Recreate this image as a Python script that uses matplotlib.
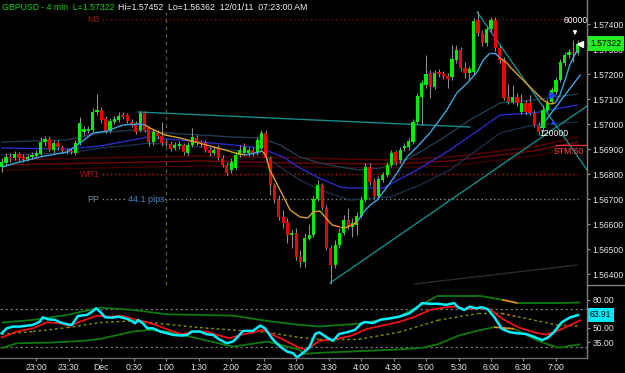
import numpy as np
import matplotlib
matplotlib.use("Agg")
import matplotlib.pyplot as plt
from matplotlib.collections import LineCollection
from matplotlib.lines import Line2D
from matplotlib.ticker import FormatStrFormatter
from matplotlib.transforms import blended_transform_factory

plt.rcParams['font.family'] = ['Liberation Sans', 'DejaVu Sans']

W, H = 625, 373

# GBPUSD 4 min bars, bar 0 = 22:28 ... bar 133 = 07:20
opens = [1.56828, 1.56844, 1.56868, 1.56864, 1.56880, 1.56868, 1.56860, 1.56868, 1.56872, 1.56880,
         1.56928, 1.56940, 1.56896, 1.56924, 1.56908, 1.56892, 1.56892, 1.56884, 1.56924, 1.56968,
         1.56972, 1.56976, 1.57048, 1.57056, 1.57020, 1.56972, 1.57008, 1.57016, 1.57036, 1.57036,
         1.57008, 1.57000, 1.56976, 1.57044, 1.56984, 1.56928, 1.56964, 1.56952, 1.56928, 1.56920,
         1.56904, 1.56912, 1.56916, 1.56884, 1.56916, 1.56944, 1.56928, 1.56924, 1.56896, 1.56884,
         1.56904, 1.56864, 1.56836, 1.56816, 1.56824, 1.56876, 1.56884, 1.56884, 1.56896, 1.56884,
         1.56904, 1.56964, 1.56864, 1.56756, 1.56696, 1.56628, 1.56608, 1.56556, 1.56564, 1.56468,
         1.56448, 1.56540, 1.56556, 1.56700, 1.56756, 1.56664, 1.56504, 1.56436, 1.56516, 1.56564,
         1.56616, 1.56588, 1.56596, 1.56632, 1.56696, 1.56828, 1.56772, 1.56712, 1.56776, 1.56796,
         1.56836, 1.56888, 1.56856, 1.56904, 1.56908, 1.56928, 1.57008, 1.57108, 1.57156, 1.57204,
         1.57148, 1.57208, 1.57200, 1.57192, 1.57188, 1.57256, 1.57296, 1.57224, 1.57204, 1.57208,
         1.57416, 1.57364, 1.57324, 1.57380, 1.57416, 1.57304, 1.57256, 1.57108, 1.57088, 1.57108,
         1.57048, 1.57084, 1.57084, 1.57044, 1.56996, 1.56984, 1.57056, 1.57088, 1.57128, 1.57176,
         1.57244, 1.57276, 1.57288, 1.57284]
highs = [1.56864, 1.56884, 1.56884, 1.56892, 1.56888, 1.56880, 1.56880, 1.56888, 1.56896, 1.56948,
         1.56952, 1.56952, 1.56936, 1.56936, 1.56916, 1.56904, 1.56904, 1.56936, 1.57028, 1.56992,
         1.56992, 1.57064, 1.57120, 1.57068, 1.57032, 1.57024, 1.57032, 1.57048, 1.57048, 1.57044,
         1.57020, 1.57012, 1.57052, 1.57052, 1.56992, 1.56980, 1.56976, 1.57008, 1.56940, 1.56932,
         1.56928, 1.56932, 1.56924, 1.56928, 1.56984, 1.56956, 1.56936, 1.56936, 1.56908, 1.56908,
         1.56916, 1.56876, 1.56848, 1.56864, 1.56888, 1.56916, 1.56924, 1.56908, 1.56908, 1.56948,
         1.56976, 1.56976, 1.56872, 1.56764, 1.56716, 1.56656, 1.56624, 1.56576, 1.56584, 1.56496,
         1.56564, 1.56600, 1.56712, 1.56776, 1.56764, 1.56676, 1.56516, 1.56536, 1.56584, 1.56636,
         1.56664, 1.56624, 1.56648, 1.56712, 1.56844, 1.56844, 1.56784, 1.56792, 1.56808, 1.56848,
         1.56896, 1.56896, 1.56908, 1.56924, 1.56944, 1.57020, 1.57124, 1.57176, 1.57276, 1.57216,
         1.57216, 1.57220, 1.57212, 1.57204, 1.57316, 1.57316, 1.57308, 1.57248, 1.57232, 1.57424,
         1.57452, 1.57376, 1.57392, 1.57428, 1.57428, 1.57316, 1.57268, 1.57160, 1.57156, 1.57124,
         1.57120, 1.57096, 1.57116, 1.57056, 1.57008, 1.57076, 1.57100, 1.57148, 1.57188, 1.57260,
         1.57288, 1.57300, 1.57336, 1.57336]
lows = [1.56808, 1.56832, 1.56848, 1.56856, 1.56852, 1.56848, 1.56852, 1.56860, 1.56864, 1.56872,
        1.56912, 1.56892, 1.56884, 1.56896, 1.56884, 1.56880, 1.56880, 1.56876, 1.56916, 1.56956,
        1.56964, 1.56968, 1.57036, 1.57004, 1.56964, 1.56964, 1.57000, 1.57008, 1.57020, 1.57004,
        1.56988, 1.56960, 1.56968, 1.56968, 1.56912, 1.56916, 1.56940, 1.56912, 1.56912, 1.56892,
        1.56896, 1.56900, 1.56876, 1.56876, 1.56908, 1.56916, 1.56908, 1.56888, 1.56872, 1.56876,
        1.56856, 1.56828, 1.56796, 1.56804, 1.56816, 1.56868, 1.56876, 1.56872, 1.56872, 1.56876,
        1.56896, 1.56856, 1.56716, 1.56684, 1.56616, 1.56584, 1.56524, 1.56504, 1.56456, 1.56428,
        1.56428, 1.56536, 1.56548, 1.56692, 1.56656, 1.56496, 1.56362, 1.56424, 1.56504, 1.56556,
        1.56580, 1.56548, 1.56556, 1.56624, 1.56688, 1.56756, 1.56704, 1.56704, 1.56768, 1.56788,
        1.56828, 1.56836, 1.56844, 1.56892, 1.56896, 1.56920, 1.57000, 1.56996, 1.57144, 1.57104,
        1.57140, 1.57188, 1.57180, 1.57144, 1.57176, 1.57244, 1.57212, 1.57184, 1.57176, 1.57196,
        1.57352, 1.57312, 1.57312, 1.57368, 1.57292, 1.57244, 1.57096, 1.57080, 1.57080, 1.57072,
        1.57040, 1.57036, 1.57036, 1.56988, 1.56956, 1.56968, 1.57048, 1.57080, 1.57120, 1.57168,
        1.57232, 1.57264, 1.57248, 1.57276]
closes = [1.56848, 1.56868, 1.56864, 1.56880, 1.56864, 1.56860, 1.56868, 1.56876, 1.56884, 1.56928,
          1.56940, 1.56900, 1.56924, 1.56908, 1.56892, 1.56888, 1.56888, 1.56924, 1.57004, 1.56980,
          1.56980, 1.57048, 1.57056, 1.57016, 1.56972, 1.57012, 1.57020, 1.57032, 1.57028, 1.57012,
          1.57000, 1.56968, 1.57044, 1.56976, 1.56928, 1.56968, 1.56952, 1.56924, 1.56924, 1.56900,
          1.56916, 1.56920, 1.56888, 1.56916, 1.56948, 1.56928, 1.56920, 1.56896, 1.56884, 1.56896,
          1.56864, 1.56836, 1.56804, 1.56848, 1.56876, 1.56896, 1.56908, 1.56896, 1.56884, 1.56936,
          1.56964, 1.56864, 1.56756, 1.56696, 1.56628, 1.56604, 1.56556, 1.56564, 1.56468, 1.56448,
          1.56544, 1.56556, 1.56700, 1.56756, 1.56664, 1.56504, 1.56436, 1.56516, 1.56564, 1.56616,
          1.56588, 1.56604, 1.56632, 1.56696, 1.56828, 1.56768, 1.56712, 1.56780, 1.56796, 1.56836,
          1.56884, 1.56844, 1.56896, 1.56912, 1.56932, 1.57008, 1.57112, 1.57164, 1.57200, 1.57148,
          1.57204, 1.57200, 1.57192, 1.57180, 1.57260, 1.57296, 1.57224, 1.57204, 1.57220, 1.57412,
          1.57364, 1.57324, 1.57380, 1.57416, 1.57304, 1.57256, 1.57104, 1.57088, 1.57108, 1.57084,
          1.57084, 1.57048, 1.57044, 1.56996, 1.56968, 1.57056, 1.57084, 1.57136, 1.57176, 1.57248,
          1.57276, 1.57288, 1.57284, 1.57322]

# fast moving average (bar position, price), orange while falling
fast_x = [0, 4.2, 8.8, 15.1, 18.1, 21.1, 24.3, 28.0, 31.9, 33.1, 34.2, 37.7, 41.2, 44.7, 48.1, 51.6,
          53.9, 56.2, 58.5, 60.1, 61.0, 61.9, 64.3, 66.6, 68.9, 70.7, 71.9, 73.5, 74.7, 76.3, 78.1,
          79.7, 80.9, 82.1, 83.4, 85.1, 86.7, 89.0, 91.3, 93.6, 95.9, 98.9, 102.8, 105.1, 107.5,
          109.8, 111.2, 112.8, 113.9, 115.1, 116.7, 117.4, 120.4, 122.7, 125.0, 126.6, 127.8,
          128.9, 130.1, 131.2, 132.9]
fast_y = [1.56828, 1.56848, 1.56868, 1.56888, 1.56924, 1.56964, 1.56972, 1.56996, 1.57000, 1.56996,
          1.56984, 1.56956, 1.56944, 1.56928, 1.56912, 1.56896, 1.56884, 1.56876, 1.56884, 1.56892,
          1.56876, 1.56816, 1.56736, 1.56656, 1.56628, 1.56624, 1.56648, 1.56652, 1.56628, 1.56596,
          1.56588, 1.56588, 1.56596, 1.56608, 1.56644, 1.56676, 1.56696, 1.56748, 1.56804, 1.56868,
          1.56908, 1.56964, 1.57056, 1.57124, 1.57164, 1.57208, 1.57256, 1.57284, 1.57284, 1.57264,
          1.57244, 1.57228, 1.57176, 1.57136, 1.57096, 1.57080, 1.57084, 1.57116, 1.57176, 1.57236,
          1.57296]
fast_orange = [(33.1, 56.2), (60.1, 82.1), (115.1, 127.8)]

slate_x = [0, 15.1, 22.7, 30.3, 38.2, 45.8, 53.4, 59.7, 64.3, 68.9, 73.5, 78.1, 82.7, 87.4, 94.3,
           101.2, 108.1, 115.1, 122.7, 132.9]
slate_y = [1.56928, 1.56936, 1.56964, 1.56976, 1.56964, 1.56956, 1.56948, 1.56944, 1.56916, 1.56868,
           1.56844, 1.56828, 1.56816, 1.56824, 1.56864, 1.56936, 1.57016, 1.57084, 1.57096, 1.57120]
blue_x = [0, 15.1, 22.7, 30.3, 33.6, 45.8, 53.4, 59.7, 65.0, 68.9, 72.8, 78.1, 80.4, 88.1, 95.9,
          103.5, 115.1, 122.7, 132.9]
blue_y = [1.56904, 1.56900, 1.56912, 1.56936, 1.56948, 1.56928, 1.56916, 1.56904, 1.56868, 1.56824,
          1.56788, 1.56748, 1.56744, 1.56744, 1.56816, 1.56896, 1.57036, 1.57044, 1.57076]
navy_x = [0, 15.1, 22.7, 30.3, 34.2, 45.8, 53.4, 59.7, 64.3, 68.9, 73.5, 80.4, 89.7, 96.6, 103.5,
          115.1, 122.7, 132.9]
navy_y = [1.56876, 1.56884, 1.56904, 1.56916, 1.56924, 1.56908, 1.56896, 1.56884, 1.56828, 1.56776,
          1.56736, 1.56696, 1.56708, 1.56756, 1.56816, 1.56964, 1.56996, 1.57008]
slow_x = [0, 22.7, 45.8, 68.9, 89.7, 103.5, 122.7, 132.9]
slow1_y = [1.56856, 1.56864, 1.56872, 1.56864, 1.56856, 1.56868, 1.56908, 1.56948]
slow2_y = [1.56836, 1.56844, 1.56852, 1.56844, 1.56840, 1.56852, 1.56892, 1.56928]
slow3_y = [1.56816, 1.56824, 1.56832, 1.56828, 1.56824, 1.56832, 1.56872, 1.56904]

# drawn trend lines: (x0, p0, x1, p1)
trend_lines = [(31.5, 1.57048, 108.1, 1.56988),
               (75.8, 1.56364, 135.2, 1.57072),
               (109.8, 1.57448, 135.2, 1.56816)]
sky_line = (124.3, 1.56984, 133.6, 1.57196)
gray_line = (95.4, 1.56360, 132.9, 1.56436)

levels = {"M3": 1.57420, "WR1": 1.56800, "PP": 1.56700}
level_start, level_end = 23.2, 133.0
session_bar = 38

price_ticks = [1.564, 1.565, 1.566, 1.567, 1.568, 1.569, 1.570, 1.571, 1.572, 1.573, 1.574]
last_price = 1.57322

# lower oscillator panel
osc_x = [0, 1.2, 2.6, 4.2, 7.2, 8.8, 9.5, 10.7, 12.3, 13.5, 15.1, 16.2, 17.6, 19.7, 20.9, 21.8, 22.7,
         23.9, 25.5, 26.9, 28.5, 29.6, 30.8, 31.5, 32.6, 33.6, 34.9, 36.6, 38.2, 39.6, 41.6, 42.8,
         43.9, 45.8, 47.4, 48.8, 50.4, 52.0, 53.4, 54.6, 55.7, 58.0, 59.7, 60.8, 62.7, 64.3, 65.9,
         67.3, 68.2, 69.6, 71.0, 72.4, 73.3, 75.1, 76.5, 77.9, 79.7, 81.6, 83.0, 83.9, 85.7, 87.6,
         89.4, 91.7, 94.1, 95.7, 97.1, 98.9, 100.8, 102.6, 104.5, 105.4, 106.8, 108.1, 109.5, 110.9,
         112.3, 113.7, 115.5, 117.4, 119.2, 121.1, 122.9, 124.8, 126.2, 127.5, 129.4, 131.2, 133.1]
osc_y = [44.4, 49.7, 51.5, 51.5, 53.3, 56.8, 61.5, 59.3, 58.6, 56.0, 54.0, 53.3, 62.9, 64.0, 67.5,
         71.0, 67.5, 61.5, 61.0, 62.2, 60.4, 58.6, 55.0, 58.6, 55.0, 49.7, 49.7, 46.2, 44.4, 42.6,
         41.9, 42.6, 46.2, 46.2, 43.3, 42.6, 37.3, 33.7, 35.5, 40.8, 46.9, 46.9, 52.6, 49.7, 37.3,
         30.1, 24.8, 23.0, 18.5, 23.4, 28.9, 43.6, 45.4, 39.9, 36.2, 43.6, 45.4, 48.0, 54.6, 56.4,
         55.3, 59.0, 60.1, 62.0, 65.6, 71.1, 76.6, 75.9, 75.9, 74.8, 76.6, 72.2, 69.3, 72.9, 71.1,
         72.2, 70.0, 62.0, 49.1, 45.4, 44.3, 43.6, 40.6, 37.0, 39.9, 45.4, 56.4, 61.2, 63.91]
sig_x = [0, 3.5, 7.2, 10.5, 13.5, 15.8, 18.1, 22.0, 25.0, 28.0, 31.2, 33.6, 36.6, 39.6, 41.9, 44.2,
         47.4, 49.7, 52.7, 55.0, 58.0, 60.3, 62.7, 65.9, 68.9, 70.5, 73.3, 77.0, 80.7, 84.4, 88.1,
         91.7, 95.4, 98.9, 102.6, 105.4, 107.2, 110.0, 112.8, 115.5, 119.2, 122.9, 125.7, 128.5,
         131.2, 133.6]
sig_y = [39.8, 46.2, 49.7, 56.1, 55.0, 52.2, 56.8, 63.2, 62.2, 62.9, 58.6, 56.1, 51.5, 46.2, 43.3,
         46.2, 46.2, 42.6, 39.0, 42.6, 45.1, 47.9, 42.6, 35.5, 28.4, 27.0, 36.2, 38.0, 41.7, 49.1,
         52.8, 56.4, 62.0, 69.3, 72.2, 72.9, 70.0, 71.1, 70.0, 60.1, 50.9, 45.4, 42.8, 47.2, 52.8,
         58.3]
mid_x = [0, 7.2, 15.1, 22.7, 30.3, 38.2, 45.8, 53.4, 61.3, 68.9, 73.3, 82.5, 91.7, 100.8, 110.0,
         115.5, 119.2, 128.5, 133.6]
mid_y = [43.3, 46.2, 50.4, 55.8, 57.6, 54.0, 50.4, 47.9, 45.4, 39.8, 38.0, 38.0, 45.4, 58.3, 65.6,
         65.6, 62.0, 53.0, 52.0]
upper_x = [0, 7.2, 15.1, 22.7, 30.3, 38.2, 45.8, 53.4, 61.3, 68.9, 73.3, 82.5, 91.7, 100.8, 110.0,
           115.5, 119.2, 128.5, 133.6]
upper_y = [55.8, 58.6, 64.0, 71.8, 69.3, 64.7, 64.0, 63.2, 57.6, 53.3, 51.6, 54.6, 62.0, 84.7, 84.7,
           80.3, 76.6, 76.6, 77.3]
lower_x = [0, 3.5, 11.2, 18.8, 22.7, 30.3, 34.2, 38.2, 45.8, 53.4, 61.3, 68.9, 69.6, 73.3, 82.5,
           91.7, 97.1, 100.8, 105.4, 110.0, 113.7, 118.3, 123.9, 128.5, 133.6]
lower_y = [28.4, 33.7, 34.4, 36.2, 38.3, 46.2, 47.9, 46.2, 38.3, 30.1, 35.5, 26.6, 22.3, 23.4, 25.2,
           27.0, 28.9, 32.6, 41.7, 47.2, 50.9, 49.1, 36.2, 28.9, 32.6]
band_orange = (112.8, 118.5)
osc_ticks = [35, 50, 80]
osc_levels = [70, 30]

time_ticks = [8 + 7.5 * k for k in range(17)]
time_labels = ["23:00", "23:30", "Dec", "0:30", "1:00", "1:30", "2:00", "2:30", "3:00",
               "3:30", "4:00", "4:30", "5:00", "5:30", "6:00", "6:30", "7:00"]


def rect(x0, y0, x1, y1):
    # pixel box measured from the top left -> figure fraction
    return [x0 / W, 1 - y1 / H, (x1 - x0) / W, (y1 - y0) / H]


def two_tone(ax, xs, ys, spans, c_main, c_alt, lw, ls="-", z=3):
    xs, ys = np.asarray(xs, float), np.asarray(ys, float)
    segs = np.stack([np.column_stack([xs[:-1], ys[:-1]]),
                     np.column_stack([xs[1:], ys[1:]])], axis=1)
    mid = (xs[:-1] + xs[1:]) / 2
    alt = np.zeros(len(mid), bool)
    for a0, a1 in spans:
        alt |= (mid > a0) & (mid < a1)
    ax.add_collection(LineCollection(segs, colors=np.where(alt, c_alt, c_main),
                                     linewidths=lw, linestyles=ls, zorder=z))


fig = plt.figure(figsize=(W / 100, H / 100), dpi=100, facecolor="black")
ax = fig.add_axes(rect(0, 0, 587, 285))
ax2 = fig.add_axes(rect(0, 285, 587, 358))
for a in (ax, ax2):
    a.set_facecolor("black")
    for s in a.spines.values():
        s.set_visible(False)
    a.set_xlim(-0.39, 135.17)
ax.set_ylim(1.56356, 1.57496)
ax2.set_ylim(17.9, 96)

# level lines
lvl_col = {"M3": "#8b0000", "WR1": "#c81414", "PP": "#8a8a8a"}
txt_col = {"M3": "#a01818", "WR1": "#b01010", "PP": "#8090a0"}
for name, p in levels.items():
    ax.hlines(p, level_start, level_end, color=lvl_col[name], lw=1, linestyles=(0, (1, 2)), zorder=1)
    ax.text(level_start - 0.6, p, name, color=txt_col[name], fontsize=6.5, ha="right", va="center")
ax.text(33.3, levels["PP"], "44.1 pips", color="#4a88c8", fontsize=6.5, ha="center", va="center",
        bbox=dict(fc="black", ec="none", pad=0.3), zorder=2)
ax.vlines(session_bar, 1.56356, 1.5745, color="#5e5e22", lw=0.9, linestyles=(0, (3, 3)), zorder=1)

# moving averages
ax.plot(slow_x, slow1_y, color="#5a0000", lw=1, zorder=1.5)
ax.plot(slow_x, slow2_y, color="#700606", lw=1, zorder=1.5)
ax.plot(slow_x, slow3_y, color="#3e0000", lw=1, zorder=1.5)
ax.plot(slate_x, slate_y, color="#1f3c4e", lw=1, zorder=1.5)
ax.plot(navy_x, navy_y, color="#1c2c46", lw=1, zorder=1.5)
ax.plot(blue_x, blue_y, color="#2a2ac4", lw=1, zorder=1.5)

for x0, p0, x1, p1 in trend_lines:
    ax.plot([x0, x1], [p0, p1], color="#178a8a", lw=1, zorder=2)
ax.plot(sky_line[::2], sky_line[1::2], color="#3ea6e0", lw=1, zorder=2)
ax.plot(gray_line[::2], gray_line[1::2], color="#2a2a2a", lw=1, zorder=1)

# candles
o, hi, lo, c = map(np.array, (opens, highs, lows, closes))
idx = np.arange(len(o))
up = c >= o
ax.vlines(idx, lo, hi, color="#8c8c8c", lw=0.8, zorder=3)
ax.bar(idx, np.maximum(np.abs(c - o), 0.00004), bottom=np.minimum(o, c), width=0.72,
       color=np.where(up, "#00ee00", "#ee0000"), linewidth=0, zorder=4)

two_tone(ax, fast_x, fast_y, fast_orange, "#3ea6e0", "#e0a028", 1.0, z=5)

# signal marks and labels on the right edge
ax.annotate("", xy=(132.4, 1.57344), xytext=(132.4, 1.57384),
            arrowprops=dict(arrowstyle="-|>", color="white", lw=1, mutation_scale=5), zorder=6)
ax.plot(133.6, 1.57320, marker="<", color="white", ms=4, zorder=6)
ax.plot(127.1, 1.57116, marker=">", color="#2040ff", ms=4, zorder=6)
ax.annotate("", xy=(127.4, 1.57028), xytext=(127.4, 1.56990),
            arrowprops=dict(arrowstyle="-|>", color="#2040ff", lw=1, mutation_scale=5), zorder=6)
ax.text(135.4, 1.57416, "60000", color="white", fontsize=6.2, ha="right", va="center", zorder=7)
ax.text(127.5, 1.56964, "120000", color="white", fontsize=6.2, ha="center", va="center", zorder=7)
ax.text(131.0, 1.56892, "STM:60", color="#ff4a4a", fontsize=6.2, ha="center", va="center", zorder=7)
ax.hlines(1.56916, 127.8, 135.2, color="#e03030", lw=1, zorder=7)

ax.yaxis.tick_right()
ax.set_yticks(price_ticks)
ax.yaxis.set_major_formatter(FormatStrFormatter("%.5f"))
ax.tick_params(axis="y", colors="#909090", labelcolor="#e6e6e6", labelsize=6.2, length=2, pad=2)
ax.set_xticks([])

tr = blended_transform_factory(ax.transAxes, ax.transData)
ax.text(1.005, last_price, "%.5f" % last_price, transform=tr, color="black", fontsize=6.2,
        ha="left", va="center", clip_on=False, zorder=8,
        bbox=dict(boxstyle="square,pad=0.3", fc="#22ee22", ec="none"))

# oscillator panel
for lv in osc_levels:
    ax2.axhline(lv, color="#6e6e6e", lw=0.9, ls=(0, (2, 2)), zorder=1)
two_tone(ax2, upper_x, upper_y, [band_orange], "#0e7a0e", "#e08a20", 1.3, z=2)
two_tone(ax2, lower_x, lower_y, [band_orange], "#0e7a0e", "#e08a20", 1.3, z=2)
two_tone(ax2, mid_x, mid_y, [band_orange], "#8c8c00", "#e08a20", 1.0, ls=(0, (2, 2)), z=2)
ax2.plot(sig_x, sig_y, color="#ff1010", lw=1.2, zorder=3)
ax2.plot(osc_x, osc_y, color="#00f0ff", lw=1.8, zorder=4)

ax2.yaxis.tick_right()
ax2.set_yticks(osc_ticks)
ax2.yaxis.set_major_formatter(FormatStrFormatter("%.2f"))
ax2.tick_params(axis="y", colors="#909090", labelcolor="#e6e6e6", labelsize=6.2, length=2, pad=2)
ax2.set_xticks(time_ticks)
ax2.set_xticklabels(time_labels)
ax2.tick_params(axis="x", colors="#909090", labelcolor="#e6e6e6", labelsize=6.2, length=2, pad=1.5)
tr2 = blended_transform_factory(ax2.transAxes, ax2.transData)
ax2.text(1.005, osc_y[-1], "%.2f" % osc_y[-1], transform=tr2, color="black", fontsize=6.2,
         ha="left", va="center", clip_on=False, zorder=8,
         bbox=dict(boxstyle="square,pad=0.3", fc="#00e8f8", ec="none"))

# frame lines
fig.add_artist(Line2D([587 / W, 587 / W], [1 - 358 / H, 1], color="#808080", lw=1))
fig.add_artist(Line2D([0, 587 / W], [1 - 358 / H, 1 - 358 / H], color="#707070", lw=1))
fig.add_artist(Line2D([587 / W, 1], [1 - 285 / H, 1 - 285 / H], color="#808080", lw=1))

fig.text(2 / W, 1 - 7 / H, "GBPUSD - 4 min  L=1.57322", color="#10d010", fontsize=6.3, va="center")
fig.text(118 / W, 1 - 7 / H, "Hi=1.57452  Lo=1.56362  12/01/11  07:23:00 AM", color="#f0f0f0",
         fontsize=6.3, va="center")

fig.savefig("out.png", dpi=100, facecolor="black")
